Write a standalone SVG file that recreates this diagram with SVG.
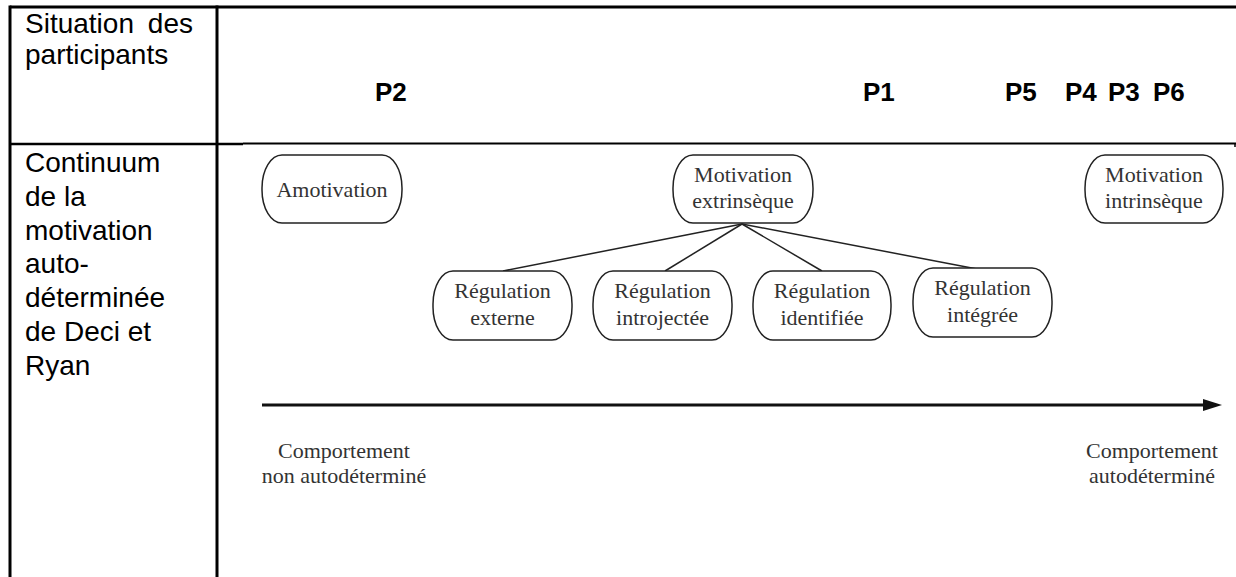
<svg xmlns="http://www.w3.org/2000/svg" width="1236" height="577" viewBox="0 0 1236 577">
<style>
.cell{font-family:"Liberation Sans",Arial,sans-serif;font-size:28px;fill:#000}
.p{font-family:"Liberation Sans",Arial,sans-serif;font-size:26px;font-weight:bold;fill:#000}
.n{fill:#fff;stroke:#222;stroke-width:1.5}
.t{font-family:"Liberation Serif","Times New Roman",serif;font-size:22px;fill:#333;text-anchor:middle}
.grid{stroke:#000;fill:none}
.conn{stroke:#222;stroke-width:1.5;fill:none}
</style>
<defs>
<marker id="ah" markerUnits="userSpaceOnUse" markerWidth="20" markerHeight="12" refX="7" refY="6" orient="auto">
<path d="M0,0 L19,6 L0,12 Z" fill="#111"/>
</marker>
</defs>
<g id="table">
<line class="grid" x1="10" y1="7" x2="1236" y2="7" stroke-width="3"/>
<line class="grid" x1="10" y1="5.5" x2="10" y2="577" stroke-width="3"/>
<line class="grid" x1="217" y1="5.5" x2="217" y2="577" stroke-width="3"/>
<line class="grid" x1="10" y1="144" x2="243" y2="144" stroke-width="2.6"/>
<line class="grid" x1="243" y1="143.5" x2="1236" y2="143.5" stroke-width="2"/>
<line class="grid" x1="1235" y1="143" x2="1235" y2="147" stroke-width="1.5"/>
</g>
<g id="row-labels">
<text class="cell" x="25" y="33">Situation</text>
<text class="cell" x="193" y="33" text-anchor="end">des</text>
<text class="cell" x="25" y="64">participants</text>
<text class="cell" x="25" y="172">Continuum</text>
<text class="cell" x="25" y="206">de la</text>
<text class="cell" x="25" y="240">motivation</text>
<text class="cell" x="25" y="273">auto-</text>
<text class="cell" x="25" y="307">déterminée</text>
<text class="cell" x="25" y="341">de Deci et</text>
<text class="cell" x="25" y="375">Ryan</text>
</g>
<g id="participants">
<text class="p" x="375" y="101">P2</text>
<text class="p" x="863" y="101">P1</text>
<text class="p" x="1005" y="101">P5</text>
<text class="p" x="1065" y="101">P4</text>
<text class="p" x="1108" y="101">P3</text>
<text class="p" x="1153" y="101">P6</text>
</g>
<g id="connectors">
<line class="conn" x1="742" y1="224" x2="503" y2="271"/>
<line class="conn" x1="742" y1="224" x2="665" y2="271"/>
<line class="conn" x1="742" y1="224" x2="822" y2="271"/>
<line class="conn" x1="742" y1="224" x2="977" y2="269"/>
<line x1="262" y1="405" x2="1210" y2="405" stroke="#111" stroke-width="3" marker-end="url(#ah)"/>
</g>
<g id="amotivation">
<rect class="n" x="262" y="155" width="140" height="68" rx="20" ry="33"/>
<text class="t" x="332" y="197">Amotivation</text>
</g>
<g id="motivation-extrinseque">
<rect class="n" x="673" y="155" width="140" height="68" rx="20" ry="33"/>
<text class="t" x="743" y="182">Motivation</text>
<text class="t" x="743" y="208">extrinsèque</text>
</g>
<g id="motivation-intrinseque">
<rect class="n" x="1085" y="155" width="138" height="68" rx="20" ry="33"/>
<text class="t" x="1154" y="182">Motivation</text>
<text class="t" x="1154" y="208">intrinsèque</text>
</g>
<g id="regulation-externe">
<rect class="n" x="433" y="271" width="139" height="69" rx="20" ry="33"/>
<text class="t" x="502.5" y="298">Régulation</text>
<text class="t" x="502.5" y="325">externe</text>
</g>
<g id="regulation-introjectee">
<rect class="n" x="593" y="271" width="139" height="69" rx="20" ry="33"/>
<text class="t" x="662.5" y="298">Régulation</text>
<text class="t" x="662.5" y="325">introjectée</text>
</g>
<g id="regulation-identifiee">
<rect class="n" x="753" y="271" width="138" height="69" rx="20" ry="33"/>
<text class="t" x="822" y="298">Régulation</text>
<text class="t" x="822" y="325">identifiée</text>
</g>
<g id="regulation-integree">
<rect class="n" x="913" y="268" width="139" height="69" rx="20" ry="33"/>
<text class="t" x="982.5" y="295">Régulation</text>
<text class="t" x="982.5" y="322">intégrée</text>
</g>
<g id="axis-labels">
<text class="t" x="344" y="458">Comportement</text>
<text class="t" x="344" y="483">non autodéterminé</text>
<text class="t" x="1152" y="458">Comportement</text>
<text class="t" x="1152" y="483">autodéterminé</text>
</g>
</svg>
